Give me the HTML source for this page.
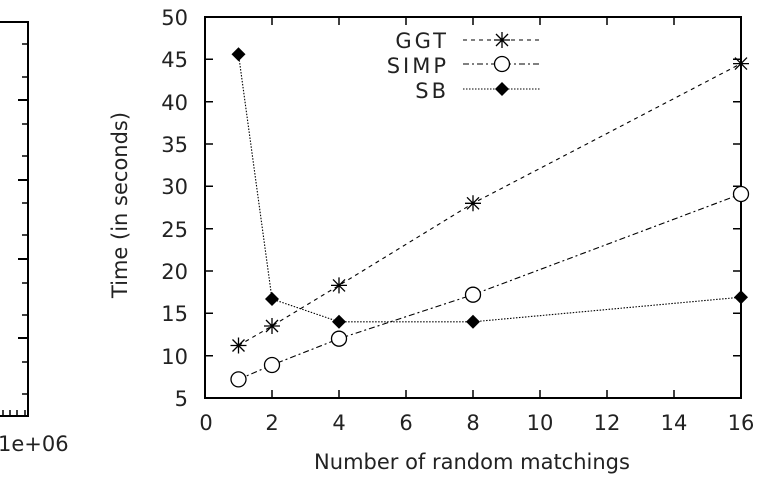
<!DOCTYPE html><html><head><style>body{margin:0;background:#fff}svg{display:block}text{font-family:"DejaVu Sans","Liberation Sans",sans-serif;fill:#222}</style></head><body>
<svg width="764" height="483" viewBox="0 0 764 483">
<g stroke="#000" stroke-width="2" fill="none">
<path d="M0 22H28V416H0"/>
<path d="M28 100h-10M28 180h-10M28 259h-10M28 338h-10"/>
<path d="M28 44h-6M28 77h-6M28 124h-6M28 156h-6M28 203h-6M28 235h-6M28 283h-6M28 315h-6M28 362h-6M28 394h-6" stroke-width="1.5"/>
<path d="M3 416v-6M10 416v-6M17 416v-6M25 416v-6" stroke-width="1.5"/>
<rect x="205" y="17" width="536" height="381"/>
</g>
<text x="-2" y="451" font-size="21">1e+06</text>
<g stroke="#000" stroke-width="1.5">
<path d="M205 355.7h8M741 355.7h-8M205 313.3h8M741 313.3h-8M205 271h8M741 271h-8M205 228.7h8M741 228.7h-8M205 186.3h8M741 186.3h-8M205 144h8M741 144h-8M205 101.7h8M741 101.7h-8M205 59.3h8M741 59.3h-8"/>
<path d="M272 398v-8M272 17v8M339 398v-8M339 17v8M406 398v-8M406 17v8M473 398v-8M473 17v8M540 398v-8M540 17v8M607 398v-8M607 17v8M674 398v-8M674 17v8"/>
</g>
<g font-size="21" text-anchor="end">
<text x="188" y="406">5</text><text x="188" y="364">10</text><text x="188" y="321">15</text><text x="188" y="279">20</text><text x="188" y="237">25</text><text x="188" y="194">30</text><text x="188" y="152">35</text><text x="188" y="110">40</text><text x="188" y="67">45</text><text x="188" y="25">50</text>
</g>
<g font-size="21" text-anchor="middle">
<text x="206" y="430">0</text><text x="272" y="430">2</text><text x="339" y="430">4</text><text x="406" y="430">6</text><text x="473" y="430">8</text><text x="540" y="430">10</text><text x="607" y="430">12</text><text x="674" y="430">14</text><text x="741" y="430">16</text>
<text x="472" y="469">Number of random matchings</text>
<text transform="translate(127,205) rotate(-90)">Time (in seconds)</text>
</g>
<g font-size="21" text-anchor="end" letter-spacing="3">
<text x="449" y="48">GGT</text><text x="449" y="73">SIMP</text><text x="449" y="98">SB</text>
</g>
<g fill="none" stroke="#000" stroke-width="1.1">
<path d="M463 40H540" stroke-dasharray="4,4"/>
<path d="M463 64H540" stroke-dasharray="6,3,2,3"/>
<path d="M463 89H540" stroke-dasharray="1.5,1.5"/>
<polyline points="238.5,345.5 272,326 339,285.4 473,203.3 741,63.6" stroke-dasharray="4,4"/>
<polyline points="238.5,379.4 272,365 339,338.7 473,294.7 741,194" stroke-dasharray="6,3,2,3"/>
<polyline points="238.5,54.2 272,299 339,321.8 473,321.8 741,297.2" stroke-dasharray="1.5,1.5"/>
</g>
<defs>
<g id="st" stroke="#000" stroke-width="1.3"><path d="M-8 0H8M0-8V8M-6-6L6 6M-6 6L6-6"/></g>
<circle id="ci" r="7.5" fill="#fff" stroke="#000" stroke-width="1.3"/>
<path id="di" d="M0-7L7 0L0 7L-7 0Z" fill="#000"/>
</defs>
<use href="#st" x="502" y="40"/><use href="#ci" x="502" y="64"/><use href="#di" x="502" y="89"/>
<use href="#st" x="238.5" y="345.5"/><use href="#st" x="272" y="326"/><use href="#st" x="339" y="285.4"/><use href="#st" x="473" y="203.3"/><use href="#st" x="741" y="63.6"/>
<use href="#ci" x="238.5" y="379.4"/><use href="#ci" x="272" y="365"/><use href="#ci" x="339" y="338.7"/><use href="#ci" x="473" y="294.7"/><use href="#ci" x="741" y="194"/>
<use href="#di" x="238.5" y="54.2"/>
<use href="#di" x="272" y="299"/><use href="#di" x="339" y="321.8"/><use href="#di" x="473" y="321.8"/><use href="#di" x="741" y="297.2"/>
</svg>
</body></html>
